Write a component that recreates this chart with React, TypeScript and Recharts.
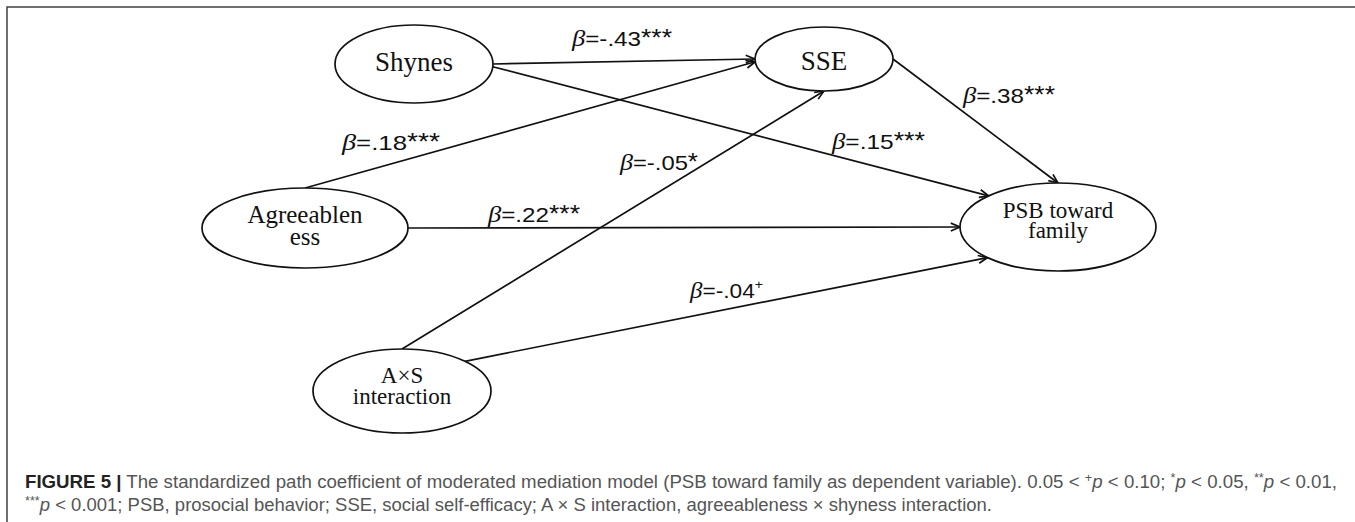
import { ScatterChart, Scatter, XAxis, YAxis, ReferenceLine } from "recharts";

const W = 1355;
const H = 522;

// nodes of the path model (centre, in picture units, y grows downward)
const nodeIds = ["shy", "sse", "agr", "psb", "axs"];
const nodeLines = [
  ["Shynes"],
  ["SSE"],
  ["Agreeablen", "ess"],
  ["PSB toward", "family"],
  ["A×S", "interaction"],
];
const nodeX = [414, 824, 305, 1058, 402];
const nodeY = [64, 59, 228, 227, 391];

// paths and their standardized coefficients
const pathFrom = ["shy", "shy", "agr", "agr", "axs", "axs", "sse"];
const pathTo = ["sse", "psb", "sse", "psb", "sse", "psb", "psb"];
const pathBeta = ["-.43", ".15", ".18", ".22", "-.05", "-.04", ".38"];
const pathSig = ["***", "***", "***", "***", "*", "+", "***"];

// where each coefficient label sits (left end, baseline)
const labelX = [572, 832, 342, 488, 620, 690, 963];
const labelY = [46, 149, 150, 222, 170, 298, 103];

// layout / style, kept apart from the data
const NODE_STYLE: Record<string, { rx: number; ry: number; fs: number; dy: number[] }> = {
  shy: { rx: 79, ry: 39, fs: 27, dy: [7] },
  sse: { rx: 69, ry: 32, fs: 27, dy: [11] },
  agr: { rx: 103, ry: 40, fs: 25, dy: [-5, 17] },
  psb: { rx: 98, ry: 44, fs: 23, dy: [-9, 11] },
  axs: { rx: 89, ry: 42, fs: 23, dy: [-8, 13] },
};
// anchor angle on the source / target ellipse (deg, 0 = right, 90 = top)
const FROM_ANGLE = [0, -4, 90, 0, 90, 45, 0];
const TO_ANGLE = [180, 135, 185, 180, 270, 224, 90];
const LABEL_W = [100, 93, 98, 92, 78, 73, 92];

const INK = "#111";
const SERIF = "'Liberation Serif', 'Times New Roman', serif";
const SANS = "'Liberation Sans', Arial, sans-serif";

const nodes = nodeIds.map((id, i) => ({ id, lines: nodeLines[i], x: nodeX[i], y: nodeY[i] }));

const anchor = (id: string, deg: number) => {
  const i = nodeIds.indexOf(id);
  const st = NODE_STYLE[id];
  const r = (deg * Math.PI) / 180;
  return { x: nodeX[i] + st.rx * Math.cos(r), y: nodeY[i] - st.ry * Math.sin(r) };
};

const edges = pathFrom.map((f, i) => ({
  key: `${f}-${pathTo[i]}`,
  segment: [anchor(f, FROM_ANGLE[i]), anchor(pathTo[i], TO_ANGLE[i])],
}));

const labels = pathBeta.map((b, i) => ({ beta: b, sig: pathSig[i], x: labelX[i], y: labelY[i], w: LABEL_W[i] }));

const ArrowLine = (props: any) => {
  const { x1, y1, x2, y2 } = props;
  const a = Math.atan2(y2 - y1, x2 - x1);
  const L = 10;
  const s = 0.4;
  const ax = x2 - L * Math.cos(a - s);
  const ay = y2 - L * Math.sin(a - s);
  const bx = x2 - L * Math.cos(a + s);
  const by = y2 - L * Math.sin(a + s);
  return (
    <g>
      <line x1={x1} y1={y1} x2={x2} y2={y2} stroke={INK} strokeWidth={1.7} />
      <path d={`M${ax},${ay} L${x2},${y2} L${bx},${by}`} fill="none" stroke={INK} strokeWidth={1.7} />
    </g>
  );
};

const NodeShape = (props: any) => {
  const { cx, cy, payload } = props;
  const st = NODE_STYLE[payload.id];
  return (
    <g>
      <ellipse cx={cx} cy={cy} rx={st.rx} ry={st.ry} fill="#fff" stroke={INK} strokeWidth={1.7} />
      <text x={cx} y={cy + st.dy[0]} textAnchor="middle" fontFamily={SERIF} fontSize={st.fs} fill={INK}>
        {payload.lines.map((t: string, i: number) => (
          <tspan key={i} x={cx} dy={i === 0 ? 0 : st.dy[i] - st.dy[i - 1]}>
            {t}
          </tspan>
        ))}
      </text>
    </g>
  );
};

const LabelShape = (props: any) => {
  const { cx, cy, payload } = props;
  const plus = payload.sig === "+";
  return (
    <text x={cx} y={cy} fontFamily={SANS} fontSize={21} fill={INK} textLength={payload.w} lengthAdjust="spacingAndGlyphs">
      <tspan fontFamily={SERIF} fontStyle="italic" fontSize={23}>β</tspan>
      <tspan>{`=${payload.beta}`}</tspan>
      {plus ? (
        <tspan fontSize={13} dy={-9}>+</tspan>
      ) : (
        <tspan fontSize={23}>{payload.sig}</tspan>
      )}
    </text>
  );
};

export default function App() {
  return (
    <div style={{ position: "absolute", left: 0, top: 0, width: W, height: H, background: "#fff", overflow: "hidden" }}>
      <svg width={W} height={H} style={{ position: "absolute", left: 0, top: 0 }}>
        <rect x={7} y={7} width={W + 20} height={H + 20} fill="none" stroke="#333" strokeWidth={1.4} />
        <text x={25} y={488} fontFamily={SANS} fontSize={17.5} fill="#555" textLength={1312} lengthAdjust="spacingAndGlyphs">
          <tspan fontWeight="bold" fill="#222">{"FIGURE 5 |"}</tspan>
          <tspan>{" The standardized path coefficient of moderated mediation model (PSB toward family as dependent variable). 0.05 < "}</tspan>
          <tspan fontSize={12} dy={-6}>+</tspan>
          <tspan fontStyle="italic" dy={6}>p</tspan>
          <tspan>{" < 0.10; "}</tspan>
          <tspan fontSize={12} dy={-6}>*</tspan>
          <tspan fontStyle="italic" dy={6}>p</tspan>
          <tspan>{" < 0.05, "}</tspan>
          <tspan fontSize={12} dy={-6}>**</tspan>
          <tspan fontStyle="italic" dy={6}>p</tspan>
          <tspan>{" < 0.01,"}</tspan>
        </text>
        <text x={25} y={511} fontFamily={SANS} fontSize={17.5} fill="#555" textLength={967} lengthAdjust="spacingAndGlyphs">
          <tspan fontSize={12} dy={-6}>***</tspan>
          <tspan fontStyle="italic" dy={6}>p</tspan>
          <tspan>{" < 0.001; PSB, prosocial behavior; SSE, social self-efficacy; A × S interaction, agreeableness × shyness interaction."}</tspan>
        </text>
      </svg>
      <div style={{ position: "absolute", left: 0, top: 0 }}>
        <ScatterChart width={W} height={H} margin={{ top: 0, right: 0, bottom: 0, left: 0 }}>
          <XAxis type="number" dataKey="x" domain={[0, W]} hide />
          <YAxis type="number" dataKey="y" domain={[0, H]} reversed hide />
          {edges.map((e) => (
            <ReferenceLine key={e.key} segment={e.segment} shape={ArrowLine} ifOverflow="visible" />
          ))}
          <Scatter data={nodes} shape={NodeShape} isAnimationActive={false} />
          <Scatter data={labels} shape={LabelShape} isAnimationActive={false} />
        </ScatterChart>
      </div>
    </div>
  );
}
